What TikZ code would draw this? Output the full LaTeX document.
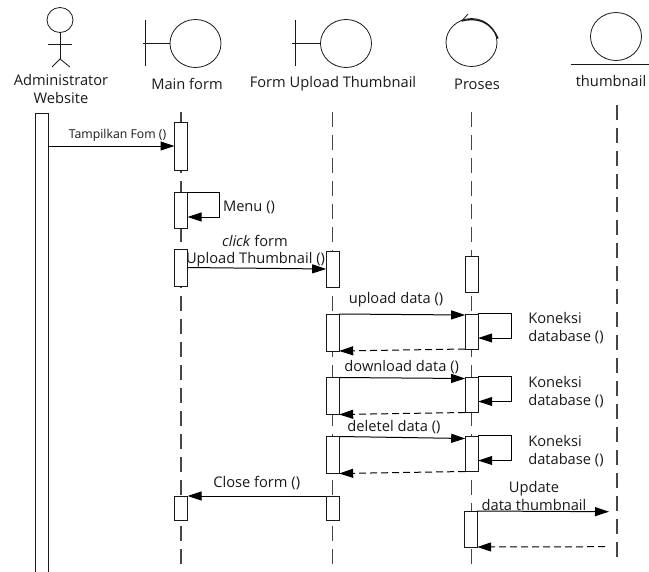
\documentclass[tikz,border=0pt]{standalone}
\usepackage{xcolor}
\usepackage{fontspec}
\setmainfont{Open Sans}
\usetikzlibrary{shapes.geometric, arrows.meta, positioning, calc}
\definecolor{mydark}{RGB}{25,25,25}
\definecolor{mygrey}{RGB}{70,70,70}
\def\px{0.75pt}
\tikzset{
  objcirc/.style={ellipse, draw=mydark, fill=white, inner sep=0pt, outer sep=0pt,
    minimum width=51*\px, minimum height=48*\px, line width=0.6pt},
  actbox/.style={rectangle, draw=mydark, fill=white, inner sep=0pt, outer sep=0pt,
    minimum width=13*\px, line width=0.75pt},
  lbl/.style={inner sep=0pt, font=\fontsize{11}{13.5}\selectfont, text=mydark, align=center},
  koneksi/.style={inner sep=0pt, font=\fontsize{11}{13.5}\selectfont, text=mydark, align=left, anchor=west},
  symline/.style={draw=mydark, line width=0.6pt},
  lifeline/.style={draw=mygrey, line width=0.8pt, dash pattern=on 15*\px off 8*\px},
  msg/.style={-{Triangle[length=14*\px, width=9*\px]}, draw=black, line width=0.75pt},
  retmsg/.style={-{Triangle[length=14*\px, width=9*\px]}, draw=black, line width=0.75pt,
    dash pattern=on 7*\px off 4*\px}
}
\begin{document}
\begin{tikzpicture}[x=\px, y=-\px]
  \useasboundingbox (0,0) rectangle (649,571);

  % Actor
  \node[objcirc, minimum width=26*\px, minimum height=25*\px] (head) at (60,20) {};
  \coordinate (hip) at (60,59);
  \coordinate (armL) at (48,44);
  \coordinate (armR) at (72,44);
  \coordinate (legL) at (52,67);
  \coordinate (legR) at (70,67);
  \draw[symline] (head) -- (hip);
  \draw[symline] (armL) -- (armR);
  \draw[symline] (legL) -- (hip) -- (legR);
  \node[lbl, font=\fontsize{11}{14.2}\selectfont] (admin) at (61,89) {Administrator\\Website};

  % Boundary symbols
  \node[objcirc] (mainobj) at (195.5,43.5) {};
  \coordinate (mainT) at (145,20);
  \coordinate (mainB) at (145,66);
  \coordinate (mainL) at (143,43.5);
  \draw[symline] (mainT) -- (mainB);
  \draw[symline] (mainL) -- (mainobj.west);
  \node[lbl] (mainlbl) at (187,84) {Main form};

  \node[objcirc] (formobj) at (346,43.5) {};
  \coordinate (formT) at (295,20);
  \coordinate (formB) at (295,66);
  \coordinate (formL) at (292,43.5);
  \draw[symline] (formT) -- (formB);
  \draw[symline] (formL) -- (formobj.west);
  \node[lbl] (formlbl) at (333,84) {Form Upload Thumbnail};

  % Control symbol
  \node[objcirc] (procobj) at (471.5,42.5) {};
  \coordinate (procA) at (461.7,21);
  \coordinate (procB) at (498,38.5);
  \coordinate (procC) at (468,14);
  \draw[symline, line width=1pt] (procA) .. controls (478,17) and (491,22) .. (procB);
  \draw[symline] (procA) -- (procC);
  \node[lbl] (proclbl) at (477,84) {Proses};

  % Entity symbol
  \node[objcirc] (thumbobj) at (616,36.5) {};
  \coordinate (thumbL) at (570.7,64);
  \coordinate (thumbR) at (649,64);
  \draw[symline] (thumbL) -- (thumbR);
  \node[lbl] (thumblbl) at (611,81) {thumbnail};

  % Lifelines
  \coordinate (mainS) at (181,112);
  \coordinate (mainE) at (181,568);
  \coordinate (formS) at (332.7,112);
  \coordinate (formE) at (332.7,568);
  \coordinate (procS) at (471.7,112);
  \coordinate (procE) at (471.7,568);
  \coordinate (thumbS) at (617,105);
  \coordinate (thumbE) at (617,560);
  \draw[lifeline] (mainS) -- (mainE);
  \draw[lifeline] (formS) -- (formE);
  \draw[lifeline] (procS) -- (procE);
  \draw[lifeline] (thumbS) -- (thumbE);

  % Activation bars
  \node[actbox, minimum height=459*\px] (adm) at (41.7,342.5) {};
  \node[actbox, minimum height=48*\px] (mf1) at (181,146) {};
  \node[actbox, minimum height=36*\px] (mf2) at (181,210) {};
  \node[actbox, minimum height=37*\px] (mf3) at (181,267.5) {};
  \node[actbox, minimum height=24*\px] (mf4) at (181,508) {};
  \node[actbox, minimum height=36*\px] (fu1) at (332.7,269) {};
  \node[actbox, minimum height=37*\px] (fu2) at (332.7,332.5) {};
  \node[actbox, minimum height=37*\px] (fu3) at (332.7,396) {};
  \node[actbox, minimum height=37*\px] (fu4) at (332.7,455) {};
  \node[actbox, minimum height=24*\px] (fu5) at (332.7,508) {};
  \node[actbox, minimum height=36*\px] (pr1) at (471.7,274) {};
  \node[actbox, minimum height=35*\px] (pr2) at (471.7,331.5) {};
  \node[actbox, minimum height=35*\px] (pr3) at (471.7,395) {};
  \node[actbox, minimum height=35*\px] (pr4) at (471.7,454) {};
  \node[actbox, minimum height=36*\px] (pr5) at (470.7,529) {};
  \coordinate (thumbIn) at (609,511.7);
  \coordinate (thumbOut) at (605,546.7);

  % Messages
  \draw[msg] (adm.east |- mf1.west) -- (mf1.west);
  \node[lbl, font=\fontsize{9.2}{11}\selectfont] (m1) at (117.5,135) {Tampilkan Fom ()};

  \draw[msg] (mf2.north east) -- ++(32,0) |- ([yshift=11*\px]mf2.south east);
  \node[lbl] (m2) at (249,207) {Menu ()};

  \draw[msg] (mf3.east) -- (fu1.west);
  \node[lbl] (m3a) at (255,241) {\textit{click} form};
  \node[lbl] (m3b) at (255.5,260) {Upload Thumbnail ()};

  \draw[msg] (fu2.north east) -- ([yshift=-1*\px]pr2.north west);
  \draw[retmsg] (pr2.south west) -- (fu2.south east);
  \node[lbl] (m4) at (396,299.7) {upload data ()};

  \draw[msg] (fu3.north east) -- ([yshift=-1*\px]pr3.north west);
  \draw[retmsg] (pr3.south west) -- (fu3.south east);
  \node[lbl] (m5) at (401.7,367) {download data ()};

  \draw[msg] (fu4.north east) -- ([yshift=-2*\px]pr4.north west);
  \draw[retmsg] (pr4.south west) -- (fu4.south east);
  \node[lbl] (m6) at (394,427) {deletel data ()};

  \draw[msg] (fu5.north west) -- (mf4.north east);
  \node[lbl] (m7) at (256.7,483) {Close form ()};

  \draw[msg] (pr5.north east) -- (thumbIn);
  \draw[retmsg] (thumbOut) -- (pr5.south east);
  \node[lbl] (m8) at (534,495.5) {Update\\data thumbnail};

  % Self calls to the database
  \draw[msg] ([yshift=1*\px]pr2.north east) -- ++(33,0) |- ([yshift=11*\px]pr2.south east);
  \node[koneksi] (k1) at (528,328) {Koneksi\\database ()};
  \draw[msg] ([yshift=1*\px]pr3.north east) -- ++(33,0) |- ([yshift=11*\px]pr3.south east);
  \node[koneksi] (k2) at (528,392) {Koneksi\\database ()};
  \draw[msg] ([yshift=1*\px]pr4.north east) -- ++(33,0) |- ([yshift=11*\px]pr4.south east);
  \node[koneksi] (k3) at (528,451) {Koneksi\\database ()};
\end{tikzpicture}
\end{document}
